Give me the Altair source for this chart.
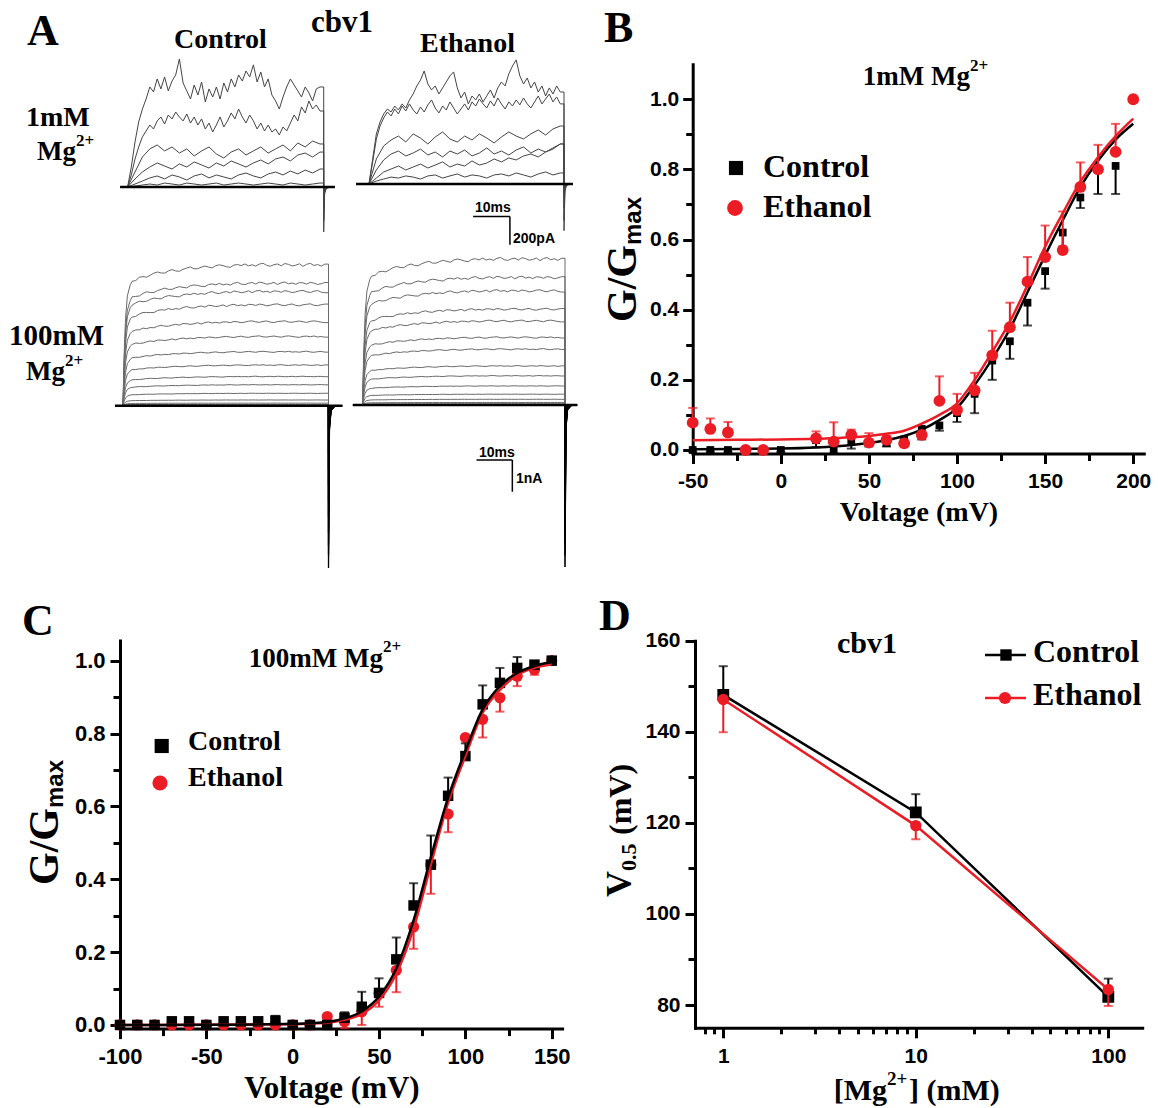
import altair as alt
import pandas as pd

W, H = 1158, 1108
SERIF = "Liberation Serif"
SANS = "Liberation Sans"
RED = "#ec1c24"
INK = "#000000"

# ---------------- Panel A: macroscopic current traces ----------------
# 1 mM Mg2+: current (pA) during the 53 ms voltage step.
# The two largest traces of each set are sampled every 1 ms, the smaller ones every 2 ms.
T_1MS = list(range(0, 53))
T_2MS = list(range(0, 53, 2))
CTRL_1MM_FINE = [
    [0, 141, 318, 460, 551, 622, 707, 672, 764, 693, 778, 679, 749, 792, 905, 735, 679, 622, 721, 650,
     742, 601, 693, 636, 707, 622, 735, 672, 764, 707, 792, 749, 820, 778, 863, 742, 813, 707, 764, 650,
     608, 551, 636, 707, 764, 721, 679, 636, 707, 665, 608, 693, 707],
    [0, 85, 198, 283, 354, 396, 438, 410, 467, 495, 445, 509, 481, 530, 495, 467, 516, 452, 495, 438,
     481, 410, 452, 389, 438, 495, 424, 467, 523, 481, 551, 495, 452, 509, 467, 410, 452, 396, 438, 389,
     410, 368, 424, 396, 452, 509, 467, 566, 523, 608, 551, 580, 537],
]
CTRL_1MM_COARSE = [
    [0, 106, 212, 269, 297, 255, 283, 240, 269, 219, 255, 283, 233, 205, 247, 269, 226, 255, 283, 240, 269, 297, 255, 311, 283, 325, 304],
    [0, 57, 106, 141, 170, 148, 127, 163, 141, 177, 156, 134, 170, 148, 184, 163, 141, 170, 191, 163, 198, 212, 184, 226, 240, 212, 247],
    [0, 21, 42, 64, 78, 57, 85, 71, 49, 78, 92, 64, 85, 71, 57, 85, 99, 78, 64, 92, 106, 85, 113, 92, 120, 99, 127],
    [0, 7, 14, 21, 14, 28, 21, 14, 28, 21, 14, 21, 28, 14, 21, 28, 21, 14, 21, 28, 21, 14, 28, 21, 14, 21, 28],
]
CTRL_1MM_TAIL = [-318, -240, -150, -90, -50, -20]
ETOH_1MM_FINE = [
    [0, 177, 354, 438, 495, 530, 509, 551, 523, 566, 537, 594, 636, 693, 735, 799, 707, 665, 693, 636,
     679, 721, 764, 792, 679, 608, 650, 566, 622, 594, 636, 580, 622, 665, 608, 679, 721, 693, 778, 834,
     877, 764, 707, 749, 679, 721, 650, 693, 622, 679, 636, 693, 650],
    [0, 156, 318, 410, 467, 509, 481, 530, 495, 551, 516, 566, 523, 495, 544, 509, 559, 594, 537, 502,
     551, 523, 580, 537, 495, 530, 566, 523, 580, 551, 601, 566, 537, 587, 551, 608, 566, 530, 580, 551,
     594, 559, 608, 566, 537, 580, 622, 566, 601, 636, 580, 615, 566],
]
ETOH_1MM_COARSE = [
    [0, 177, 269, 311, 339, 297, 354, 325, 283, 332, 368, 318, 297, 339, 311, 354, 325, 290, 332, 368, 339, 318, 354, 382, 346, 389, 410],
    [0, 99, 170, 212, 233, 198, 219, 247, 205, 226, 191, 233, 212, 240, 198, 219, 255, 212, 233, 205, 240, 262, 219, 247, 226, 255, 283],
    [0, 42, 85, 106, 127, 99, 120, 141, 113, 134, 156, 120, 141, 127, 163, 134, 148, 177, 156, 184, 170, 198, 212, 191, 226, 247, 283],
    [0, 21, 35, 49, 42, 57, 49, 35, 57, 64, 42, 57, 71, 49, 64, 57, 42, 64, 71, 57, 78, 64, 49, 71, 85, 64, 78],
]
ETOH_1MM_TAIL = [-330, -260, -170, -110, -70, -30]
STEP_1MM = 53.0

# 100 mM Mg2+: steady-state levels (nA), fast activation and small ripple
LEVEL_CTRL_100 = [4.44, 3.86, 3.60, 3.18, 2.65, 2.18, 1.70, 1.28, 0.92, 0.66, 0.39, 0.18, 0.08, 0.04]
LEVEL_ETOH_100 = [4.60, 4.02, 3.60, 3.02, 2.65, 2.13, 1.76, 1.23, 0.92, 0.60, 0.34, 0.18, 0.08, 0.04]
TAIL_CTRL_100 = [-5.12, -4.7, -4.4, -4.0, -3.5, -3.0, -2.5, -2.0, -1.5, -1.1, -0.7, -0.35, -0.15, -0.08]
TAIL_ETOH_100 = [-5.11, -4.75, -4.4, -3.9, -3.5, -2.95, -2.5, -1.95, -1.5, -1.05, -0.65, -0.35, -0.15, -0.08]
RISE_T = [0.0, 0.3, 0.7, 1.2, 2.0]
RISE = [0.0, 0.35, 0.62, 0.78, 0.86]
PLATEAU = [0.88, 0.895, 0.905, 0.915, 0.922, 0.93, 0.935, 0.94, 0.945, 0.95,
           0.955, 0.958, 0.962, 0.965, 0.968, 0.972, 0.975, 0.977, 0.98, 0.982,
           0.984, 0.986, 0.988, 0.99, 0.991, 0.992, 0.993, 0.994, 0.995, 0.996,
           0.997, 0.998, 0.999] + [1.0] * 21
RIPPLE = [0.004, -0.006, 0.008, 0.002, -0.009, -0.003, 0.007, 0.010, -0.002, -0.008,
          0.003, 0.009, -0.005, -0.010, 0.001, 0.006, 0.011, -0.004, -0.007, 0.002,
          0.008, -0.001, -0.009, 0.005, 0.010, 0.003, -0.006, -0.011, 0.004, 0.007,
          -0.002, 0.009, -0.005, 0.001, -0.008, 0.006, 0.012, -0.003, -0.009, 0.002,
          0.007, -0.006, 0.010, 0.004, -0.007, -0.002, 0.008, -0.010, 0.005, 0.011,
          -0.004, 0.003, -0.008, 0.006]
STEP_100 = 56.5

# tail current after the step: time after step end (ms) and fraction of peak
TAIL_DT = [0.0, 0.25, 0.7, 1.8]
TAIL_FRAC = [1.0, 0.15, 0.03, 0.0]

# scale bars
BAR_MS = 10
BAR_PA = 200
BAR_NA = 1

# ---------------- Panel B: G/Gmax, 1 mM Mg2+ ----------------
B_CTRL_V = [-50, -40, -30, -20, -10, 0, 20, 30, 40, 50, 60, 70, 80, 90, 100, 110, 120, 130, 140, 150, 160, 170, 180, 190]
B_CTRL_G = [0.0, 0.0, 0.0, 0.0, 0.0, 0.0, 0.028, 0.0, 0.024, 0.02, 0.02, 0.03, 0.06, 0.07, 0.105, 0.16, 0.255, 0.31, 0.42, 0.51, 0.62, 0.72, 0.80, 0.81]
B_CTRL_SE = [0.005, 0.005, 0.005, 0.005, 0.005, 0.005, 0.02, 0.01, 0.02, 0.01, 0.01, 0.017, 0.03, 0.015, 0.025, 0.055, 0.055, 0.05, 0.065, 0.05, 0.04, 0.03, 0.07, 0.08]
B_ETOH_V = [-50, -40, -30, -20, -10, 20, 30, 40, 50, 60, 70, 80, 90, 100, 110, 120, 130, 140, 150, 160, 170, 180, 190, 200]
B_ETOH_G = [0.078, 0.06, 0.05, 0.0, 0.0, 0.033, 0.024, 0.043, 0.021, 0.029, 0.019, 0.043, 0.14, 0.114, 0.17, 0.27, 0.35, 0.48, 0.55, 0.57, 0.75, 0.80, 0.85, 1.0]
B_ETOH_SE = [0.042, 0.03, 0.03, 0.0, 0.0, 0.02, 0.055, 0.015, 0.027, 0.01, 0.0, 0.0, 0.07, 0.046, 0.05, 0.07, 0.07, 0.07, 0.09, 0.11, 0.07, 0.07, 0.08, 0.0]
B_FIT_V = [-50, -25, 0, 20, 40, 50, 60, 70, 80, 90, 100, 110, 120, 130, 140, 150, 160, 170, 180, 190, 200]
B_FIT_CTRL = [0.002, 0.003, 0.004, 0.007, 0.014, 0.02, 0.028, 0.04, 0.058, 0.085, 0.12, 0.185, 0.26, 0.345, 0.45, 0.555, 0.655, 0.75, 0.825, 0.885, 0.93]
B_FIT_ETOH = [0.028, 0.029, 0.03, 0.032, 0.036, 0.04, 0.046, 0.055, 0.075, 0.1, 0.133, 0.2, 0.28, 0.366, 0.47, 0.58, 0.675, 0.765, 0.835, 0.895, 0.945]

# ---------------- Panel C: G/Gmax, 100 mM Mg2+ ----------------
C_V = [-100, -90, -80, -70, -60, -50, -40, -30, -20, -10, 0, 10, 20, 30, 40, 50, 60, 70, 80, 90, 100, 110, 120, 130, 140, 150]
C_CTRL_G = [0, 0, 0, 0.01, 0.01, 0, 0.01, 0.01, 0.01, 0.012, 0, 0, 0, 0.02, 0.05, 0.088, 0.18, 0.328, 0.44, 0.629, 0.738, 0.88, 0.939, 0.98, 0.989, 1.0]
C_CTRL_SE = [0, 0, 0, 0.005, 0.005, 0, 0.005, 0.01, 0.005, 0.013, 0, 0, 0, 0.015, 0.041, 0.04, 0.06, 0.061, 0.08, 0.05, 0.035, 0.052, 0.041, 0.03, 0.01, 0]
C_ETOH_G = [0, 0, 0, 0, 0, 0, 0, 0, 0, 0, 0, 0, 0.023, 0.009, 0.036, 0.087, 0.15, 0.269, 0.44, 0.579, 0.789, 0.839, 0.898, 0.957, 0.975, 1.0]
C_ETOH_SE = [0, 0, 0, 0, 0, 0, 0, 0, 0, 0, 0, 0, 0.0, 0.018, 0.036, 0.037, 0.06, 0.06, 0.08, 0.05, 0.0, 0.05, 0.038, 0.027, 0.014, 0.0]
C_FIT_V = [-100, -50, 0, 10, 20, 30, 40, 50, 60, 70, 80, 90, 100, 110, 120, 130, 140, 150]
C_FIT_CTRL = [0, 0.0005, 0.003, 0.005, 0.008, 0.018, 0.037, 0.078, 0.155, 0.287, 0.46, 0.624, 0.752, 0.866, 0.93, 0.966, 0.985, 0.996]
C_FIT_ETOH = [0, 0.0004, 0.002, 0.004, 0.006, 0.014, 0.03, 0.068, 0.141, 0.265, 0.44, 0.61, 0.738, 0.857, 0.92, 0.96, 0.98, 0.99]

# ---------------- Panel D: V0.5 against [Mg2+] ----------------
D_MG = [1, 10, 100]
D_CTRL = [148.1, 122.3, 81.8]
D_CTRL_SE = [6.3, 4.0, 4.0]
D_ETOH = [147.1, 119.4, 83.4]
D_ETOH_SE = [7.2, 3.0, 3.6]


# ---------------- helpers ----------------
def lin(domain, rng):
    return alt.Scale(domain=domain, range=rng, nice=False, zero=False)


def tail_points(t_end, tail):
    return [(t_end + dt, tail * f) for dt, f in zip(TAIL_DT, TAIL_FRAC)]


def step_trace(times, values, t_pre, t_end, tail, t_post):
    pts = [(t_pre, 0.0)] + list(zip(times, values)) + [(t_end, values[-1])]
    pts += tail_points(t_end, tail)
    pts.append((t_post, 0.0))
    return pts


def trace_frame(traces):
    rows = []
    for tid, pts in enumerate(traces):
        for i, (t, v) in enumerate(pts):
            rows.append({"trace": tid, "i": i, "t": t, "I": v})
    return pd.DataFrame(rows)


def trace_layer(df, xs, ys, color, width):
    return alt.Chart(df).mark_line(color=color, strokeWidth=width).encode(
        x=alt.X("t:Q", scale=xs, axis=None),
        y=alt.Y("I:Q", scale=ys, axis=None),
        detail="trace:N",
        order="i:Q",
    )


def traces_1mm(fine, coarse, tails, t_pre, t_post):
    sets = [(T_1MS, v) for v in fine] + [(T_2MS, v) for v in coarse]
    return [step_trace(t, v, t_pre, STEP_1MM, tail, t_post) for (t, v), tail in zip(sets, tails)]


def traces_100(levels, tails, t_pre, t_post):
    plateau_t = [2.5 + k for k in range(len(PLATEAU))]
    out = []
    for n, (lvl, tail) in enumerate(zip(levels, tails)):
        shift = (n * 7) % len(RIPPLE)
        vals = [lvl * r for r in RISE]
        vals += [lvl * (p + RIPPLE[(k + shift) % len(RIPPLE)]) for k, p in enumerate(PLATEAU)]
        out.append(step_trace(RISE_T + plateau_t, vals, t_pre, STEP_100, tail, t_post))
    return out


def axis(orient, at, values, fmt=None, expr=None, labels=True, tick=10, pad=6, size=21, domain=True):
    offset = -at if orient == "left" else at - H
    kw = dict(orient=orient, offset=offset, values=values, title=None, grid=False,
              labels=labels, domain=domain, domainColor=INK, domainWidth=3, domainCap="square",
              ticks=True, tickColor=INK, tickWidth=3, tickSize=tick,
              labelFont=SANS, labelFontWeight="bold", labelFontSize=size, labelColor=INK,
              labelPadding=pad, labelOverlap=False, labelFlush=False, labelBound=False)
    if fmt:
        kw["format"] = fmt
    if expr:
        kw["labelExpr"] = expr
    return alt.Axis(**kw)


HYPHEN = "replace(datum.label, '\u2212', '-')"
ONE = pd.DataFrame({"k": [0]})


def label(text, x, y, size, font=SERIF, align="left", angle=0, weight="bold"):
    kw = dict(text=text, font=font, fontSize=size, fontWeight=weight, color=INK,
              align=align, baseline="alphabetic")
    if angle:
        kw["angle"] = angle
    return alt.Chart(ONE).mark_text(**kw).encode(x=alt.value(x), y=alt.value(y))


def key_point(x, y, shape, size, color):
    return alt.Chart(ONE).mark_point(filled=True, shape=shape, size=size, color=color,
                                     opacity=1, strokeWidth=0).encode(x=alt.value(x), y=alt.value(y))


def series_layers(xv, yv, se, direction, xs, ys, color, shape, size, cap, x_axis=None, y_axis=None):
    df = pd.DataFrame({"x": xv, "y": yv, "se": se})
    df["end"] = df["y"] + direction * df["se"]
    bars = df[df["se"] > 0]
    xe = alt.X("x:Q", scale=xs, axis=None)
    rule = alt.Chart(bars).mark_rule(color=color, strokeWidth=2).encode(
        x=xe, y=alt.Y("y:Q", scale=ys, axis=None), y2="end:Q")
    tick = alt.Chart(bars).mark_tick(orient="horizontal", size=cap, thickness=2, color=color).encode(
        x=xe, y=alt.Y("end:Q", scale=ys, axis=None))
    pts = alt.Chart(df).mark_point(filled=True, shape=shape, size=size, color=color,
                                   opacity=1, strokeWidth=0).encode(
        x=alt.X("x:Q", scale=xs, axis=x_axis), y=alt.Y("y:Q", scale=ys, axis=y_axis))
    return [rule, tick, pts]


def fit_layer(xv, yv, xs, ys, color, x_axis=None, y_axis=None):
    df = pd.DataFrame({"x": xv, "y": yv})
    return alt.Chart(df).mark_line(color=color, strokeWidth=2.5, interpolate="monotone").encode(
        x=alt.X("x:Q", scale=xs, axis=x_axis), y=alt.Y("y:Q", scale=ys, axis=y_axis))


layers = []

# ---------------- Panel A ----------------
xs_tl, ys_tl = lin([0, STEP_1MM], [127.6, 323.7]), lin([0, 200], [187, 158.7])
xs_tr, ys_tr = lin([0, STEP_1MM], [369, 564]), lin([0, 200], [184, 155.7])
xs_bl, ys_bl = lin([0, STEP_100], [123, 328.5]), lin([0, 1], [405.7, 374])
xs_br, ys_br = lin([0, STEP_100], [362.6, 565]), lin([0, 1], [405, 373.3])

tl = traces_1mm(CTRL_1MM_FINE, CTRL_1MM_COARSE, CTRL_1MM_TAIL, -2.0, 56.0)
tr = traces_1mm(ETOH_1MM_FINE, ETOH_1MM_COARSE, ETOH_1MM_TAIL, -3.5, 55.4)
bl = traces_100(LEVEL_CTRL_100, TAIL_CTRL_100, -2.2, 60.3)
br = traces_100(LEVEL_ETOH_100, TAIL_ETOH_100, -2.7, 59.9)
bl_tail = [[(STEP_100, 0.0)] + tail_points(STEP_100, t) for t in TAIL_CTRL_100]
br_tail = [[(STEP_100, 0.0)] + tail_points(STEP_100, t) for t in TAIL_ETOH_100]

layers += [
    trace_layer(trace_frame(tl), xs_tl, ys_tl, "#454545", 1.0),
    trace_layer(trace_frame(tr), xs_tr, ys_tr, "#454545", 1.0),
    trace_layer(trace_frame(bl), xs_bl, ys_bl, "#6a6a6a", 1.0),
    trace_layer(trace_frame(br), xs_br, ys_br, "#6a6a6a", 1.0),
    trace_layer(trace_frame(bl_tail), xs_bl, ys_bl, INK, 1.3),
    trace_layer(trace_frame(br_tail), xs_br, ys_br, INK, 1.3),
    trace_layer(trace_frame([[(-2.0, 0.0), (56.0, 0.0)]]), xs_tl, ys_tl, INK, 2.4),
    trace_layer(trace_frame([[(-3.5, 0.0), (55.4, 0.0)]]), xs_tr, ys_tr, INK, 2.4),
    trace_layer(trace_frame([[(-2.2, 0.0), (60.3, 0.0)]]), xs_bl, ys_bl, INK, 2.4),
    trace_layer(trace_frame([[(-2.7, 0.0), (59.9, 0.0)]]), xs_br, ys_br, INK, 2.4),
]


# scale bars, placed below the ethanol traces
def scale_bar(t0, y0, dt, dy, xs, ys):
    h = pd.DataFrame({"a": [t0], "b": [t0 + dt], "y": [y0]})
    v = pd.DataFrame({"t": [t0 + dt], "a": [y0], "b": [y0 - dy]})
    return [
        alt.Chart(h).mark_rule(color=INK, strokeWidth=1.5).encode(
            x=alt.X("a:Q", scale=xs, axis=None), x2="b:Q", y=alt.Y("y:Q", scale=ys, axis=None)),
        alt.Chart(v).mark_rule(color=INK, strokeWidth=1.5).encode(
            x=alt.X("t:Q", scale=xs, axis=None), y=alt.Y("a:Q", scale=ys, axis=None), y2="b:Q"),
    ]


layers += scale_bar(28.3, -230, BAR_MS, BAR_PA, xs_tr, ys_tr)
layers += scale_bar(31.8, -1.735, BAR_MS, BAR_NA, xs_br, ys_br)

# ---------------- Panel B ----------------
xs_b, ys_b = lin([-50, 206], [692.7, 1143.8]), lin([-0.01, 1.1], [453.5, 64.2])
B_XAX = axis("bottom", 453.5, [-50, 0, 50, 100, 150, 200], expr=HYPHEN, pad=7, size=21)
B_YAX = axis("left", 692.7, [0, 0.2, 0.4, 0.6, 0.8, 1.0], fmt=".1f", pad=4, size=21)
B_XMIN = axis("bottom", 453.5, [-25, 25, 75, 125, 175], labels=False, tick=7, domain=False)
B_YMIN = axis("left", 692.7, [0.1, 0.3, 0.5, 0.7, 0.9], labels=False, tick=7, domain=False)

layers += series_layers(B_CTRL_V, B_CTRL_G, B_CTRL_SE, -1, xs_b, ys_b, INK, "square", 60, 9,
                        x_axis=B_XAX, y_axis=B_YAX)
layers.append(fit_layer(B_FIT_V, B_FIT_CTRL, xs_b, ys_b, INK, x_axis=B_XMIN, y_axis=B_YMIN))
layers += series_layers(B_ETOH_V, B_ETOH_G, B_ETOH_SE, 1, xs_b, ys_b, RED, "circle", 140, 9)
layers.append(fit_layer(B_FIT_V, B_FIT_ETOH, xs_b, ys_b, RED))

# ---------------- Panel C ----------------
xs_c, ys_c = lin([-100, 156], [120, 562.1]), lin([-0.01, 1.055], [1028.6, 640.6])
C_XAX = axis("bottom", 1028.6, [-100, -50, 0, 50, 100, 150], expr=HYPHEN, pad=8, size=22)
C_YAX = axis("left", 120, [0, 0.2, 0.4, 0.6, 0.8, 1.0], fmt=".1f", pad=5, size=22)
C_XMIN = axis("bottom", 1028.6, [-75, -25, 25, 75, 125], labels=False, tick=7, domain=False)
C_YMIN = axis("left", 120, [0.1, 0.3, 0.5, 0.7, 0.9], labels=False, tick=7, domain=False)

layers += series_layers(C_V, C_ETOH_G, C_ETOH_SE, -1, xs_c, ys_c, RED, "circle", 125, 9)
layers += series_layers(C_V, C_CTRL_G, C_CTRL_SE, 1, xs_c, ys_c, INK, "square", 110, 9,
                        x_axis=C_XAX, y_axis=C_YAX)
layers.append(fit_layer(C_FIT_V, C_FIT_ETOH, xs_c, ys_c, RED, x_axis=C_XMIN, y_axis=C_YMIN))
layers.append(fit_layer(C_FIT_V, C_FIT_CTRL, xs_c, ys_c, INK))

# ---------------- Panel D ----------------
xs_d = alt.Scale(type="log", domain=[0.713, 150], range=[695, 1142.2], nice=False)
ys_d = lin([75, 160], [1027.8, 640.7])
D_XAX = axis("bottom", 1027.8, [1, 10, 100], fmt="d", pad=8, size=21)
D_YAX = axis("left", 695, [80, 100, 120, 140, 160], fmt="d", pad=5, size=21)
D_XMIN = axis("bottom", 1027.8, [0.8, 0.9, 2, 3, 4, 5, 6, 7, 8, 9, 20, 30, 40, 50, 60, 70, 80, 90],
              labels=False, tick=6, domain=False)
D_YMIN = axis("left", 695, [90, 110, 130, 150], labels=False, tick=7, domain=False)

d_ctrl = pd.DataFrame({"x": D_MG, "y": D_CTRL})
d_etoh = pd.DataFrame({"x": D_MG, "y": D_ETOH})
layers.append(alt.Chart(d_ctrl).mark_line(color=INK, strokeWidth=2.5).encode(
    x=alt.X("x:Q", scale=xs_d, axis=D_XMIN), y=alt.Y("y:Q", scale=ys_d, axis=D_YMIN)))
layers += series_layers(D_MG, D_CTRL, D_CTRL_SE, 1, xs_d, ys_d, INK, "square", 140, 9,
                        x_axis=D_XAX, y_axis=D_YAX)
layers.append(alt.Chart(d_etoh).mark_line(color=RED, strokeWidth=2.5).encode(
    x=alt.X("x:Q", scale=xs_d, axis=None), y=alt.Y("y:Q", scale=ys_d, axis=None)))
layers += series_layers(D_MG, D_ETOH, D_ETOH_SE, -1, xs_d, ys_d, RED, "circle", 130, 9)

# ---------------- legends ----------------
layers += [
    key_point(736, 168, "square", 200, INK), label("Control", 763, 177, 32),
    key_point(735, 208, "circle", 250, RED), label("Ethanol", 763, 217, 32),
    key_point(161.7, 746, "square", 200, INK), label("Control", 188, 750, 28),
    key_point(160, 783, "circle", 230, RED), label("Ethanol", 188, 786, 28),
    alt.Chart(ONE).mark_rule(color=INK, strokeWidth=2.5).encode(
        x=alt.value(985), x2=alt.value(1026), y=alt.value(655)),
    key_point(1006, 655, "square", 130, INK), label("Control", 1033, 662, 32),
    alt.Chart(ONE).mark_rule(color=RED, strokeWidth=2.5).encode(
        x=alt.value(985), x2=alt.value(1026), y=alt.value(698)),
    key_point(1005, 698, "circle", 150, RED), label("Ethanol", 1033, 705, 32),
]

# ---------------- titles and annotations ----------------
UP = 270  # rotated text reading bottom-to-top
layers += [
    label("A", 27, 45, 44), label("B", 604, 42, 44), label("C", 22, 635, 44), label("D", 599, 630, 44),
    # panel A
    label("cbv1", 311, 32, 31), label("Control", 174, 48, 28), label("Ethanol", 420, 52, 28),
    label("1mM", 26, 126, 28), label("Mg", 76, 160, 27, align="right"), label("2+", 76, 146, 17),
    label("100mM", 9, 345, 29), label("Mg", 65, 380, 27, align="right"), label("2+", 65, 366, 17),
    label("10ms", 475, 212, 14, font=SANS), label("200pA", 513, 243, 14, font=SANS),
    label("10ms", 479, 457, 14, font=SANS), label("1nA", 516, 483, 14, font=SANS),
    # panel B
    label("1mM Mg", 970, 85, 27, align="right"), label("2+", 970, 71, 17),
    label("Voltage (mV)", 919, 521, 28, align="center"),
    label("G/G", 636, 322, 42, angle=UP), label("max", 641, 245, 24, font=SANS, angle=UP),
    # panel C
    label("100mM Mg", 383, 667, 27, align="right"), label("2+", 383, 652, 17),
    label("Voltage (mV)", 332, 1098, 31, align="center"),
    label("G/G", 58, 885, 42, angle=UP), label("max", 63, 808, 24, font=SANS, angle=UP),
    # panel D
    label("cbv1", 837, 653, 30),
    label("[Mg", 887, 1100, 30, align="right"), label("2+", 887, 1085, 19),
    label("] (mM)", 909, 1100, 30),
    label("V", 631, 897, 36, angle=UP), label("0.5", 636, 871, 22, angle=UP),
    label("(mV)", 631, 835, 32, angle=UP),
]

chart = alt.layer(*layers).resolve_scale(x="independent", y="independent").properties(
    width=W, height=H, autosize=alt.AutoSizeParams(type="none"), padding=0, background="white"
).configure_view(stroke=None)

chart.save("out.html", embed_options={"renderer": "svg", "actions": False})
